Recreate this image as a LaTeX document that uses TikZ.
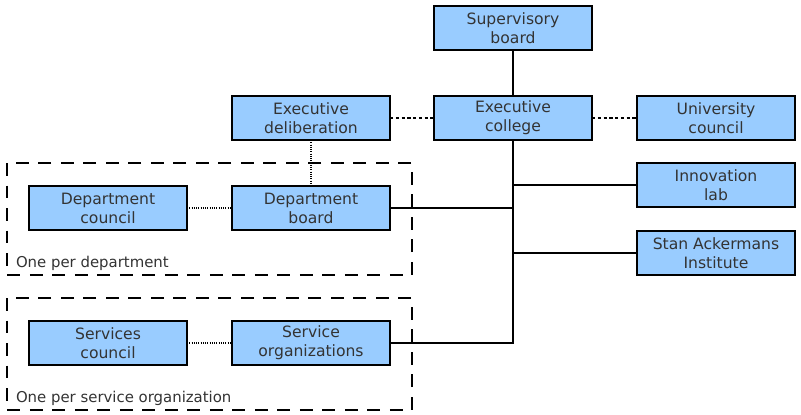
\documentclass[tikz,border=0pt]{standalone}
\usepackage{fontspec}
\setmainfont{DejaVu Sans}
\definecolor{orgtext}{RGB}{51,51,51}
\definecolor{orgfill}{RGB}{153,204,255}
\definecolor{orgline}{RGB}{0,0,0}

\begin{document}
\begin{tikzpicture}[
  x=0.025cm,
  y=-0.025cm,
  every node/.style={inner sep=0pt, outer sep=0pt},
  orgBox/.style={draw=orgline, fill=orgfill, line width=1.3pt, minimum width=3.95cm, minimum height=1.1cm,
    font=\fontsize{11.1}{13.6}\selectfont, text=orgtext, align=center},
  orgNote/.style={font=\fontsize{10.6}{12}\selectfont, text=orgtext, anchor=west},
  orgConn/.style={draw=orgline, line width=1pt},
  orgDash/.style={draw=orgline, line width=1pt, dash pattern=on 2.3pt off 1.8pt},
  orgDot/.style={draw=orgline, line width=1pt, dash pattern=on 0.8pt off 0.8pt},
  orgGroup/.style={draw=orgline, line width=1pt, dash pattern=on 9pt off 7pt}
]

  \path[use as bounding box] (0,0) rectangle (801,414);

  % groups
  \draw[orgGroup] (7,163) rectangle (412,275);
  \node[orgNote] (notedept) at (16,263) {One per department};
  \draw[orgGroup] (7,298) rectangle (412,410);
  \node[orgNote] (noteserv) at (16,398) {One per service organization};

  % boxes
  \node[orgBox] (board) at (513,28) {Supervisory\\board};
  \node[orgBox] (college) at (513,118) {Executive\\college};
  \node[orgBox] (delib) at (311,118) {Executive\\deliberation};
  \node[orgBox] (univ) at (716,118) {University\\council};
  \node[orgBox] (lab) at (716,185) {Innovation\\lab};
  \node[orgBox] (sai) at (716,253) {Stan Ackermans\\Institute};
  \node[orgBox] (deptcouncil) at (108,208) {Department\\council};
  \node[orgBox] (deptboard) at (311,208) {Department\\board};
  \node[orgBox] (servcouncil) at (108,343) {Services\\council};
  \node[orgBox] (servorg) at (311,343) {Service\\organizations};

  % connectors
  \coordinate (trunkend) at (college.south |- servorg.east);
  \draw[orgConn] (board) -- (college);
  \draw[orgConn] (college.south) -- (trunkend) -- (servorg.east);
  \draw[orgConn] (college.south |- lab.west) -- (lab.west);
  \draw[orgConn] (college.south |- sai.west) -- (sai.west);
  \draw[orgConn] (deptboard.east) -- (college.south |- deptboard.east);
  \draw[orgDash] (delib) -- (college);
  \draw[orgDash] (college) -- (univ);
  \draw[orgDot] (delib) -- (deptboard);
  \draw[orgDot] (deptcouncil) -- (deptboard);
  \draw[orgDot] (servcouncil) -- (servorg);

\end{tikzpicture}
\end{document}
